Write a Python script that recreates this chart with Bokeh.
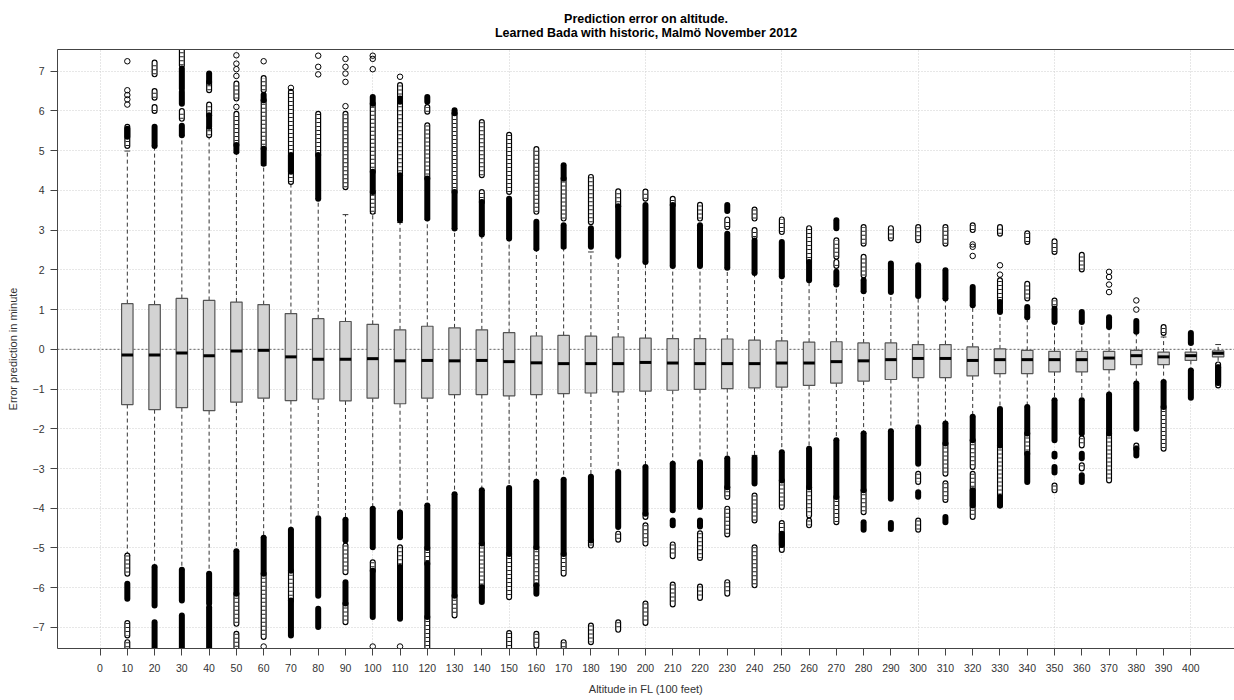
from bokeh.plotting import figure
from bokeh.models import Range1d, FixedTicker, LinearAxis, Title, Span, ColumnDataSource
from bokeh.embed import file_html
from bokeh.resources import INLINE

# Flight levels (100 ft) with one box each
levels = list(range(10, 420, 10))

# Box statistics per flight level (minutes)
q3 = [1.15, 1.125, 1.28, 1.23, 1.19, 1.125, 0.90, 0.77, 0.70, 0.63, 0.49, 0.58, 0.54, 0.49, 0.42, 0.335,
      0.35, 0.33, 0.31, 0.28, 0.27, 0.27, 0.26, 0.23, 0.21, 0.18, 0.19, 0.16, 0.16, 0.12, 0.12, 0.06,
      0.01, -0.025, -0.05, -0.05, -0.05, -0.025, -0.07, -0.07, -0.04]
median = [-0.14, -0.14, -0.09, -0.16, -0.04, -0.025, -0.19, -0.25, -0.25, -0.235, -0.29, -0.28, -0.29, -0.28, -0.31, -0.34,
          -0.36, -0.36, -0.36, -0.33, -0.345, -0.36, -0.36, -0.36, -0.345, -0.345, -0.31, -0.29, -0.26, -0.23, -0.23, -0.28,
          -0.26, -0.26, -0.26, -0.26, -0.22, -0.16, -0.19, -0.16, -0.10]
q1 = [-1.39, -1.52, -1.47, -1.545, -1.33, -1.23, -1.29, -1.25, -1.30, -1.23, -1.37, -1.23, -1.14, -1.14, -1.17, -1.14,
      -1.115, -1.10, -1.07, -1.05, -1.03, -1.01, -0.99, -0.97, -0.95, -0.91, -0.85, -0.80, -0.76, -0.71, -0.71, -0.67,
      -0.61, -0.61, -0.57, -0.57, -0.51, -0.385, -0.385, -0.28, -0.19]
whisker_hi = [4.99, 5.12, 5.39, 5.37, 4.95, 4.63, 4.19, 3.79, 3.39, 3.42, 3.19, 3.27, 3.04, 2.89, 2.79, 2.52,
              2.55, 2.45, 2.35, 2.20, 2.10, 2.10, 2.05, 1.92, 1.84, 1.74, 1.63, 1.46, 1.44, 1.34, 1.28, 1.11,
              0.94, 0.81, 0.69, 0.69, 0.56, 0.42, 0.31, 0.14, 0.12]
whisker_lo = [-5.19, -5.48, -5.55, -5.65, -5.08, -4.74, -4.54, -4.25, -4.29, -4.01, -4.11, -3.93, -3.65, -3.55, -3.49, -3.33,
              -3.28, -3.21, -3.09, -2.96, -2.88, -2.84, -2.75, -2.67, -2.59, -2.50, -2.29, -2.12, -2.06, -1.96, -1.87, -1.70,
              -1.50, -1.45, -1.28, -1.28, -1.14, -0.86, -0.82, -0.53, -0.36]

# Outliers: stretches of heavily overlapping points (level, low, high)
dense_runs = [
    (10, 5.35, 5.55), (10, -5.90, -6.28),
    (20, 5.12, 5.60), (20, -5.48, -6.45), (20, -6.87, -7.60),
    (30, 6.56, 7.07), (30, 6.18, 6.48), (30, 5.39, 5.63), (30, -5.55, -6.32), (30, -6.70, -7.60),
    (40, 6.73, 6.94), (40, 5.60, 5.89), (40, -5.65, -6.40), (40, -6.49, -7.60),
    (50, 4.97, 5.14), (50, -5.08, -6.15),
    (60, 6.27, 6.41), (60, 4.67, 5.05), (60, -4.74, -5.65),
    (70, 4.47, 4.89), (70, -4.54, -5.57), (70, -6.32, -7.20),
    (80, 3.79, 4.89), (80, -4.25, -6.20), (80, -6.53, -6.99),
    (90, -4.29, -4.81), (90, -5.86, -6.40),
    (100, 6.18, 6.35), (100, 3.96, 4.47), (100, -4.01, -4.98), (100, -5.57, -6.74),
    (110, 6.23, 6.31), (110, 3.25, 4.38), (110, -4.11, -4.73), (110, -5.48, -6.78),
    (120, 6.23, 6.35), (120, 3.29, 4.30), (120, -3.93, -5.00), (120, -5.40, -6.74),
    (130, 5.94, 6.02), (130, 3.04, 3.96), (130, -3.65, -6.20),
    (140, 2.89, 3.71), (140, -3.55, -4.89), (140, -5.99, -6.36),
    (150, 2.79, 3.79), (150, -3.49, -5.15),
    (160, 2.54, 3.21), (160, -3.33, -4.98), (160, -5.94, -6.15),
    (170, 4.30, 4.63), (170, 2.58, 3.12), (170, -3.28, -5.15),
    (180, 2.58, 3.05), (180, -3.21, -4.81),
    (190, 2.35, 3.60), (190, -3.09, -4.47),
    (200, 2.20, 3.63), (200, -2.96, -4.14),
    (210, 2.10, 3.63), (210, -2.88, -4.05), (210, -4.31, -4.43),
    (220, 2.10, 3.12), (220, -2.84, -3.97), (220, -4.31, -4.46),
    (230, 3.48, 3.63), (230, 2.05, 2.91), (230, -2.75, -3.47),
    (240, 1.92, 2.74), (240, -2.73, -3.38),
    (250, 1.84, 2.70), (250, -2.59, -3.30), (250, -4.64, -4.92),
    (260, 1.74, 2.20), (260, -2.50, -3.47),
    (270, 3.05, 3.25), (270, 1.63, 1.95), (270, -2.29, -3.72),
    (280, 1.46, 1.74), (280, -2.12, -3.55), (280, -4.35, -4.54),
    (290, 1.44, 2.16), (290, -2.06, -3.76), (290, -4.37, -4.52),
    (300, 1.34, 2.115), (300, -1.96, -2.88), (300, -3.60, -3.71),
    (310, 1.28, 1.99), (310, -1.87, -2.37), (310, -4.22, -4.35),
    (320, 1.11, 1.57), (320, -1.70, -2.29), (320, -3.55, -3.93),
    (330, 0.94, 1.19), (330, -1.50, -2.42), (330, -3.72, -3.93),
    (340, 0.81, 1.065), (340, -1.45, -2.12), (340, -2.63, -3.34),
    (350, 0.69, 1.02), (350, -1.28, -2.29), (350, -2.63, -2.70), (350, -2.96, -3.10),
    (360, 0.69, 0.94), (360, -1.28, -2.12), (360, -2.63, -2.74), (360, -3.17, -3.34),
    (370, 0.56, 0.81), (370, -1.14, -2.12),
    (380, 0.44, 0.71), (380, -0.86, -2.00), (380, -2.50, -2.67),
    (390, -0.82, -1.45),
    (400, 0.16, 0.41), (400, -0.53, -1.22),
    (410, -0.45, -0.85),
]

# Outliers: looser chains of individually visible points (level, low, high)
chain_runs = [
    (10, 5.12, 5.60), (10, -5.19, -5.65), (10, -6.89, -7.20), (10, -7.37, -7.50),
    (20, 6.92, 7.22), (20, 6.33, 6.50), (20, 6.00, 6.10),
    (30, 7.15, 7.53), (30, 5.80, 6.00),
    (40, 6.52, 6.73), (40, 5.89, 6.16), (40, 5.39, 5.56),
    (50, 6.31, 6.69), (50, 5.14, 5.93), (50, -6.15, -6.91), (50, -7.16, -7.60),
    (60, 6.52, 6.83), (60, 5.05, 6.27), (60, -5.65, -7.24),
    (70, 4.21, 6.48), (70, -5.57, -6.32),
    (80, 4.89, 5.93),
    (90, 4.08, 5.93), (90, -4.94, -5.61), (90, -6.40, -6.87),
    (100, 4.47, 6.18), (100, 3.46, 3.96), (100, -5.36, -5.57),
    (110, 6.31, 6.65), (110, 4.38, 6.23), (110, -4.98, -5.48),
    (120, 5.98, 6.10), (120, 4.30, 5.64), (120, -5.00, -5.40), (120, -6.74, -7.60),
    (130, 3.96, 5.94), (130, -6.20, -6.70),
    (140, 4.38, 5.72), (140, 3.71, 3.96), (140, -4.89, -5.99),
    (150, 3.96, 5.40), (150, -5.15, -6.24), (150, -7.14, -7.60),
    (160, 3.46, 5.04), (160, -4.98, -5.94), (160, -7.16, -7.46),
    (170, 3.29, 4.30), (170, -5.15, -5.65), (170, -7.37, -7.50),
    (180, 3.20, 4.34), (180, -4.81, -4.94), (180, -6.95, -7.37),
    (190, 3.60, 3.98), (190, -4.64, -4.79), (190, -6.87, -7.06),
    (200, 3.79, 3.97), (200, -4.14, -4.22), (200, -4.43, -4.89), (200, -6.40, -6.89),
    (210, 3.63, 3.79), (210, -4.91, -5.21), (210, -5.92, -6.42),
    (220, 3.29, 3.64), (220, -4.63, -5.25), (220, -5.97, -6.26),
    (230, 3.08, 3.27), (230, -3.47, -3.72), (230, -4.01, -4.66), (230, -5.86, -6.15),
    (240, 3.29, 3.52), (240, 2.83, 3.00), (240, -3.68, -4.31), (240, -4.98, -5.94),
    (250, 2.95, 3.27), (250, -3.30, -3.97), (250, -4.37, -5.05),
    (260, 2.20, 3.05), (260, -3.47, -4.18), (260, -4.31, -4.43),
    (270, 2.33, 2.745), (270, 2.10, 2.20), (270, -3.72, -4.35),
    (280, 2.66, 3.08), (280, 1.86, 2.33), (280, -3.55, -4.10),
    (290, 2.79, 3.05),
    (300, 2.745, 3.08), (300, -3.13, -3.34), (300, -4.31, -4.54),
    (310, 2.66, 3.08), (310, -2.37, -3.13), (310, -3.37, -3.79),
    (320, 3.00, 3.12), (320, -2.29, -2.96), (320, -3.13, -4.22),
    (330, 2.91, 3.08), (330, 1.19, 1.74), (330, -2.42, -3.93),
    (340, 2.70, 2.92), (340, 1.28, 1.65), (340, -2.12, -2.63),
    (350, 2.45, 2.72), (350, 1.11, 1.23), (350, -3.43, -3.55),
    (360, 2.01, 2.38), (360, -2.24, -2.42), (360, -2.92, -3.00),
    (370, -2.12, -3.30),
    (380, -2.42, -2.50),
    (390, 0.41, 0.56), (390, -1.45, -2.50),
    (410, -0.38, -0.91),
]

# Outliers: isolated single points (level, value)
single_points = [
    (10, 7.25), (10, 6.52), (10, 6.40), (10, 6.29), (10, 6.16),
    (50, 7.40), (50, 7.19), (50, 7.05), (50, 6.88), (50, 6.10),
    (60, 7.25), (60, -7.48),
    (70, 6.58),
    (80, 7.39), (80, 7.11), (80, 6.92),
    (90, 7.31), (90, 7.11), (90, 6.94), (90, 6.73), (90, 6.12),
    (100, 7.39), (100, 7.31), (100, 7.05), (100, -7.48),
    (110, 6.86), (110, -7.48),
    (320, 2.64), (320, 2.58), (320, 2.35),
    (330, 2.115), (330, 1.88),
    (370, 1.95), (370, 1.82), (370, 1.63), (370, 1.44),
    (380, 1.23), (380, 1.00),
]

x_ticks = list(range(0, 410, 10))
y_ticks = list(range(-7, 8))
x_grid = list(range(0, 450, 50))

BOX_W = 4.2
CAP_W = BOX_W / 2
FONT = "Liberation Sans"

p = figure(width=1234, height=700, output_backend="svg", toolbar_location=None,
           x_range=Range1d(-15.6, 416.0), y_range=Range1d(-7.53, 7.546),
           min_border_left=57, min_border_right=0, min_border_top=49, min_border_bottom=52,
           background_fill_color="white", border_fill_color="white")
p.outline_line_color = None

# axes
p.xaxis.ticker = FixedTicker(ticks=x_ticks)
p.yaxis.ticker = FixedTicker(ticks=y_ticks)
for ax in (p.xaxis[0], p.yaxis[0]):
    ax.axis_line_color = "#444444"
    ax.major_tick_line_color = "#444444"
    ax.major_tick_out = 7
    ax.major_tick_in = 0
    ax.minor_tick_out = 0
    ax.minor_tick_in = 0
    ax.major_label_text_font = FONT
    ax.major_label_text_font_size = "10.5px"
    ax.major_label_text_color = "#333333"
    ax.axis_label_text_font = FONT
    ax.axis_label_text_font_size = "11px"
    ax.axis_label_text_font_style = "normal"
    ax.axis_label_text_color = "#333333"
p.xaxis.axis_label = "Altitude in FL (100 feet)"
p.yaxis.axis_label = "Error prediction in minute"
p.xaxis.major_label_standoff = 8
p.xaxis.axis_label_standoff = 8
p.yaxis.major_label_standoff = 6
p.yaxis.axis_label_standoff = 11
p.yaxis.major_label_orientation = "horizontal"

top_axis = LinearAxis(ticker=FixedTicker(ticks=[]), axis_line_color="#444444",
                      major_tick_out=0, major_tick_in=0, minor_tick_out=0, minor_tick_in=0,
                      major_label_text_font_size="0px", major_label_standoff=0)
p.add_layout(top_axis, "above")

subtitle = Title(text="Learned Bada with historic, Malmö November 2012", align="center",
                 text_font=FONT, text_font_size="12.5px", text_font_style="bold",
                 text_color="black", standoff=20)
p.add_layout(subtitle, "above")
title = Title(text="Prediction error on altitude.", align="center",
              text_font=FONT, text_font_size="12.5px", text_font_style="bold",
              text_color="black", standoff=-24)
p.add_layout(title, "above")

# dotted grid
p.xgrid.ticker = FixedTicker(ticks=x_grid)
p.ygrid.ticker = FixedTicker(ticks=y_ticks)
for g in (p.xgrid[0], p.ygrid[0]):
    g.grid_line_color = "#cfcfcf"
    g.grid_line_dash = "1 2"
    g.grid_line_width = 1

p.add_layout(Span(location=0, dimension="width", line_color="#666666",
                  line_dash="2 2", line_width=1, level="underlay"))

# boxes
src = ColumnDataSource(dict(
    x=levels, q1=q1, q3=q3, med=median, lo=whisker_lo, hi=whisker_hi,
    left=[v - BOX_W / 2 for v in levels], right=[v + BOX_W / 2 for v in levels],
    cl=[v - CAP_W / 2 for v in levels], cr=[v + CAP_W / 2 for v in levels],
))
p.segment(x0="x", y0="q3", x1="x", y1="hi", source=src, line_color="#333333",
          line_dash="4 3", line_width=1)
p.segment(x0="x", y0="q1", x1="x", y1="lo", source=src, line_color="#333333",
          line_dash="4 3", line_width=1)
p.segment(x0="cl", y0="hi", x1="cr", y1="hi", source=src, line_color="#333333", line_width=1)
p.segment(x0="cl", y0="lo", x1="cr", y1="lo", source=src, line_color="#333333", line_width=1)
p.vbar(x="x", width=BOX_W, top="q3", bottom="q1", source=src,
       fill_color="#d3d3d3", line_color="#555555", line_width=1.2)
p.segment(x0="left", y0="med", x1="right", y1="med", source=src, line_color="black", line_width=3)

# outliers: chains drawn as a ringed column of overlapping circles
ch = ColumnDataSource(dict(x=[r[0] for r in chain_runs], lo=[r[1] for r in chain_runs],
                           hi=[r[2] for r in chain_runs]))
p.segment(x0="x", y0="lo", x1="x", y1="hi", source=ch, line_color="black",
          line_width=6, line_cap="round")
p.segment(x0="x", y0="lo", x1="x", y1="hi", source=ch, line_color="white",
          line_width=3.6, line_cap="round")
p.segment(x0="x", y0="lo", x1="x", y1="hi", source=ch, line_color="#222222",
          line_width=3.6, line_dash="1 3", line_cap="butt")

dn = ColumnDataSource(dict(x=[r[0] for r in dense_runs], lo=[r[1] for r in dense_runs],
                           hi=[r[2] for r in dense_runs]))
p.segment(x0="x", y0="lo", x1="x", y1="hi", source=dn, line_color="black",
          line_width=6, line_cap="round")

pts = ColumnDataSource(dict(x=[r[0] for r in single_points], y=[r[1] for r in single_points]))
p.scatter(x="x", y="y", source=pts, marker="circle", size=5.5, fill_color=None,
          line_color="black", line_width=1)

open("out.html", "w").write(file_html(p, INLINE))
